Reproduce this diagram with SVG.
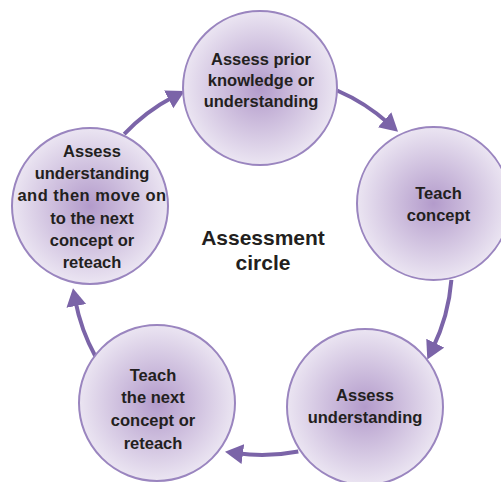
<svg xmlns="http://www.w3.org/2000/svg" width="501" height="482" viewBox="0 0 501 482">
<style>
.node circle{fill:url(#g);stroke:#9a85bf;stroke-width:2}
.node text{font-family:"Liberation Sans",Arial,sans-serif;font-weight:bold;font-size:16.5px;fill:#231f20;text-anchor:middle}
.title{font-family:"Liberation Sans",Arial,sans-serif;font-weight:bold;font-size:21px;fill:#231f20;text-anchor:middle}
.conn path{fill:none;stroke:#7b64a8;stroke-width:4;marker-end:url(#ah)}
</style>
<defs>
<radialGradient id="g" cx="50%" cy="50%" r="50%">
<stop offset="0" stop-color="#b39bcb"/>
<stop offset="1" stop-color="#ebe5f2"/>
</radialGradient>
<marker id="ah" markerUnits="userSpaceOnUse" markerWidth="20" markerHeight="22" refX="6" refY="10" orient="auto">
<path d="M0,0 L18,10 L0,20 Z" fill="#7b64a8"/>
</marker>
</defs>
<rect width="501" height="482" fill="#ffffff"/>
<g id="connectors" class="conn">
<path d="M337.1,90.5 A190,190 0 0 1 389.1,123.8"/>
<path d="M451.4,279.9 A190,190 0 0 1 432.6,348.6"/>
<path d="M298.3,451.5 A190,190 0 0 1 236.9,453.3"/>
<path d="M95.5,356.5 A190,190 0 0 1 75.2,300.0"/>
<path d="M124.2,134.2 A190,190 0 0 1 174.0,96.6"/>
</g>
<g id="n1" class="node">
<circle cx="260" cy="88" r="77"/>
<text x="261" y="65">Assess prior</text>
<text x="261" y="86">knowledge or</text>
<text x="261" y="107">understanding</text>
</g>
<g id="n2" class="node">
<circle cx="433.5" cy="203.5" r="76.5"/>
<text x="438.5" y="199">Teach</text>
<text x="438.5" y="221">concept</text>
</g>
<g id="n3" class="node">
<circle cx="365" cy="407" r="78"/>
<text x="365" y="401">Assess</text>
<text x="365" y="423">understanding</text>
</g>
<g id="n4" class="node">
<circle cx="157" cy="403" r="78"/>
<text x="153" y="381">Teach</text>
<text x="153" y="403">the next</text>
<text x="153" y="426">concept or</text>
<text x="153" y="449">reteach</text>
</g>
<g id="n5" class="node">
<circle cx="90" cy="206" r="78"/>
<text x="92" y="157">Assess</text>
<text x="92" y="179">understanding</text>
<text x="92" y="201" letter-spacing="0.5">and then move on</text>
<text x="92" y="223.5">to the next</text>
<text x="92" y="246">concept or</text>
<text x="92" y="268">reteach</text>
</g>
<g id="center">
<text class="title" x="263" y="245">Assessment</text>
<text class="title" x="263" y="270">circle</text>
</g>
</svg>
